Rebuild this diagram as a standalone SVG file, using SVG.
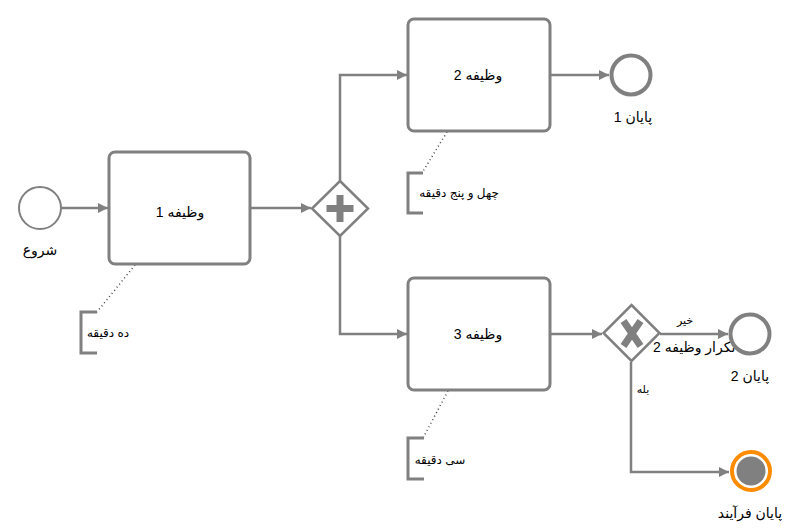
<svg xmlns="http://www.w3.org/2000/svg" width="810" height="529" viewBox="0 0 810 529">
  <style>
    .task { fill: #ffffff; stroke: #808080; stroke-width: 3; }
    .flow { fill: none; stroke: #808080; stroke-width: 2.5; }
    .assoc { fill: none; stroke: #444444; stroke-width: 1.5; stroke-dasharray: 1 3; }
    .bracket { fill: none; stroke: #808080; stroke-width: 3; }
    .gw { fill: #ffffff; stroke: #808080; stroke-width: 2.5; }
    .mark { stroke: #808080; stroke-width: 7; fill: none; }
    .lbl { font-family: "Liberation Sans", "DejaVu Sans", "Noto Sans", sans-serif; font-size: 14px; fill: #000000; text-anchor: middle; }
    .sm { font-size: 12px; }
    .xs { font-size: 11px; }
  </style>
  <defs>
    <marker id="arrow" viewBox="0 0 10 10" refX="10" refY="5" markerWidth="4" markerHeight="4" orient="auto" markerUnits="strokeWidth">
      <path d="M0,0 L10,5 L0,10 z" fill="#808080"/>
    </marker>
  </defs>

  <!-- sequence flows and associations -->
  <g id="connectors">
    <path class="flow" d="M61,208 L108,208" marker-end="url(#arrow)"/>
    <path class="flow" d="M250,208 L311,208" marker-end="url(#arrow)"/>
    <path class="flow" d="M340,181 L340,75 L407,75" marker-end="url(#arrow)"/>
    <path class="flow" d="M340,236 L340,334 L407,334" marker-end="url(#arrow)"/>
    <path class="flow" d="M550,75 L609,75" marker-end="url(#arrow)"/>
    <path class="flow" d="M550,334 L602,334" marker-end="url(#arrow)"/>
    <path class="flow" d="M660,334 L728,334" marker-end="url(#arrow)"/>
    <path class="flow" d="M631,362 L631,472 L729,472" marker-end="url(#arrow)"/>
    <path class="assoc" d="M135,265 L97,312"/>
    <path class="assoc" d="M447,132 L422,173"/>
    <path class="assoc" d="M448,391 L423,438"/>
  </g>

  <g id="start">
    <circle cx="40" cy="208" r="21" fill="#ffffff" stroke="#808080" stroke-width="2"/>
    <text class="lbl" x="40" y="255">شروع</text>
  </g>

  <g id="task1">
    <rect class="task" x="109" y="152" width="141" height="112" rx="6"/>
    <text class="lbl" x="180" y="217">وظیفه 1</text>
  </g>

  <g id="note1">
    <path class="bracket" d="M97,312 L81,312 L81,353 L97,353"/>
    <text class="lbl sm" x="108" y="337">ده دقیقه</text>
  </g>

  <g id="parallel">
    <path class="gw" d="M340,181 L368,208.5 L340,236 L312,208.5 z"/>
    <path class="mark" d="M326.5,208.5 L353.5,208.5 M340,195 L340,222"/>
  </g>

  <g id="task2">
    <rect class="task" x="408" y="19" width="142" height="112" rx="6"/>
    <text class="lbl" x="478" y="80">وظیفه 2</text>
  </g>

  <g id="note2">
    <path class="bracket" d="M423,173 L408,173 L408,213 L423,213"/>
    <text class="lbl sm" x="459" y="197">چهل و پنج دقیقه</text>
  </g>

  <g id="end1">
    <circle cx="631" cy="75" r="19.5" fill="#ffffff" stroke="#808080" stroke-width="4"/>
    <text class="lbl" x="633" y="122">پایان 1</text>
  </g>

  <g id="task3">
    <rect class="task" x="408" y="278" width="142" height="112" rx="6"/>
    <text class="lbl" x="478" y="339">وظیفه 3</text>
  </g>

  <g id="note3">
    <path class="bracket" d="M424,438 L408,438 L408,479 L424,479"/>
    <text class="lbl sm" x="440" y="464">سی دقیقه</text>
  </g>

  <g id="exclusive">
    <path class="gw" d="M631.5,305 L659.5,333 L631.5,361 L603.5,333 z"/>
    <path class="mark" d="M623.5,321 L640.5,346 M640.5,321 L623.5,346"/>
  </g>

  <g id="flow-labels">
    <text class="lbl xs" x="685" y="324">خیر</text>
    <text class="lbl" x="653" y="352" style="text-anchor:start">تکرار وظیفه 2</text>
    <text class="lbl xs" x="643" y="393">بله</text>
  </g>

  <g id="end2">
    <circle cx="750" cy="334" r="19.5" fill="#ffffff" stroke="#808080" stroke-width="4"/>
    <text class="lbl" x="750" y="381">پایان 2</text>
  </g>

  <g id="end-process">
    <circle cx="751" cy="471" r="19" fill="#ffffff" stroke="#ff8c00" stroke-width="4"/>
    <circle cx="751" cy="471" r="14.5" fill="#808080"/>
    <text class="lbl" x="750" y="518">پایان فرآیند</text>
  </g>
</svg>
